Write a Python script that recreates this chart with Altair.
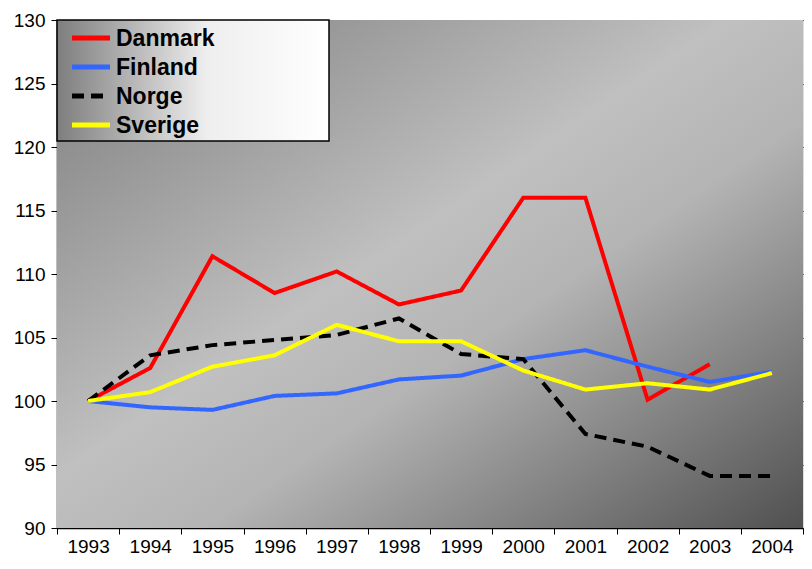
import altair as alt
import pandas as pd

years = [str(y) for y in range(1993, 2005)]
danmark = [100, 102.6, 111.4, 108.5, 110.2, 107.6, 108.7, 116.0, 116.0, 100.1, 102.9, None]
finland = [100, 99.5, 99.3, 100.4, 100.6, 101.7, 102.0, 103.3, 104.0, 102.7, 101.5, 102.3]
norge = [100, 103.6, 104.4, 104.8, 105.2, 106.5, 103.7, 103.3, 97.4, 96.4, 94.1, 94.1]
sverige = [100, 100.7, 102.7, 103.6, 106.0, 104.7, 104.7, 102.4, 100.9, 101.4, 100.9, 102.2]

series_names = ["Danmark", "Finland", "Norge", "Sverige"]
series_colors = ["#ff0000", "#3366ff", "#000000", "#ffff00"]
series_dash = [[1, 0], [1, 0], [12, 7], [1, 0]]
y_ticks = [90, 95, 100, 105, 110, 115, 120, 125, 130]

rows = []
for name, vals in zip(series_names, [danmark, finland, norge, sverige]):
    for yr, v in zip(years, vals):
        if v is not None:
            rows.append({"year": yr, "value": v, "country": name})
df = pd.DataFrame(rows)
leg_df = pd.DataFrame({"country": series_names})

W, H = 746, 508

color_scale = alt.Scale(domain=series_names, range=series_colors)
dash_scale = alt.Scale(domain=series_names, range=series_dash)

bg = alt.Chart(pd.DataFrame({"a": [0]})).mark_rect(
    fill=alt.Gradient(
        gradient="linear", x1=0, y1=0, x2=1, y2=1,
        stops=[
            alt.GradientStop(offset=0, color="#7c7c7c"),
            alt.GradientStop(offset=0.45, color="#c0c0c0"),
            alt.GradientStop(offset=0.6, color="#b4b4b4"),
            alt.GradientStop(offset=1, color="#505050"),
        ],
    )
).encode(x=alt.value(0), x2=alt.value(W), y=alt.value(0), y2=alt.value(H))

x_enc = alt.X(
    "year:O",
    sort=years,
    bandPosition=0.5,
    scale=alt.Scale(type="band", domain=years, paddingInner=0, paddingOuter=0),
    axis=alt.Axis(
        title=None, labelAngle=0, tickBand="extent", grid=False,
        labelFont="Liberation Sans", labelFontSize=19, labelColor="black",
        tickColor="black", domainColor="black", tickSize=6, labelPadding=3,
        domainWidth=1.5,
    ),
)
y_enc = alt.Y(
    "value:Q",
    scale=alt.Scale(domain=[90, 130], nice=False),
    axis=alt.Axis(
        title=None, values=y_ticks, grid=True, gridColor="black", gridWidth=1,
        labelFont="Liberation Sans", labelFontSize=19, labelColor="black",
        tickColor="black", domainColor="black", tickSize=6, labelPadding=6,
        domainWidth=1.5,
    ),
)

legend_box = alt.Chart(pd.DataFrame({"a": [0]})).mark_rect(
    fill=alt.Gradient(
        gradient="linear", x1=0, y1=0, x2=1, y2=0,
        stops=[
            alt.GradientStop(offset=0, color="#7e7e7e"),
            alt.GradientStop(offset=0.55, color="#eeeeee"),
            alt.GradientStop(offset=1, color="#ffffff"),
        ],
    ),
    stroke="black", strokeWidth=1.5,
).encode(x=alt.value(0), x2=alt.value(272), y=alt.value(0), y2=alt.value(121))

lines = alt.Chart(df).mark_line(strokeWidth=4).encode(
    x=x_enc,
    y=y_enc,
    color=alt.Color("country:N", scale=color_scale, legend=None),
    strokeDash=alt.StrokeDash("country:N", scale=dash_scale, legend=None),
)

leg_y = alt.Y(
    "country:N",
    scale=alt.Scale(type="point", domain=series_names, range=[18, 105], padding=0),
    axis=None,
)
leg_sym = alt.Chart(leg_df).mark_rule(strokeWidth=5).encode(
    x=alt.value(15), x2=alt.value(53), y=leg_y,
    color=alt.Color("country:N", scale=color_scale, legend=None),
    strokeDash=alt.StrokeDash("country:N", scale=dash_scale, legend=None),
)
leg_txt = alt.Chart(leg_df).mark_text(
    align="left", baseline="middle", font="Liberation Sans", fontSize=23,
    fontWeight="bold", color="black", dy=1,
).encode(x=alt.value(59), y=leg_y, text="country:N")

legend_layer = alt.layer(leg_sym, leg_txt)

chart = alt.layer(bg, legend_box, lines, legend_layer).resolve_scale(
    y="independent"
).properties(
    width=W, height=H, padding={"left": 5, "top": 3, "right": 0, "bottom": 0}
).configure_view(stroke=None).configure(background="white")

chart.save("out.html", embed_options={"renderer": "svg", "actions": False})
